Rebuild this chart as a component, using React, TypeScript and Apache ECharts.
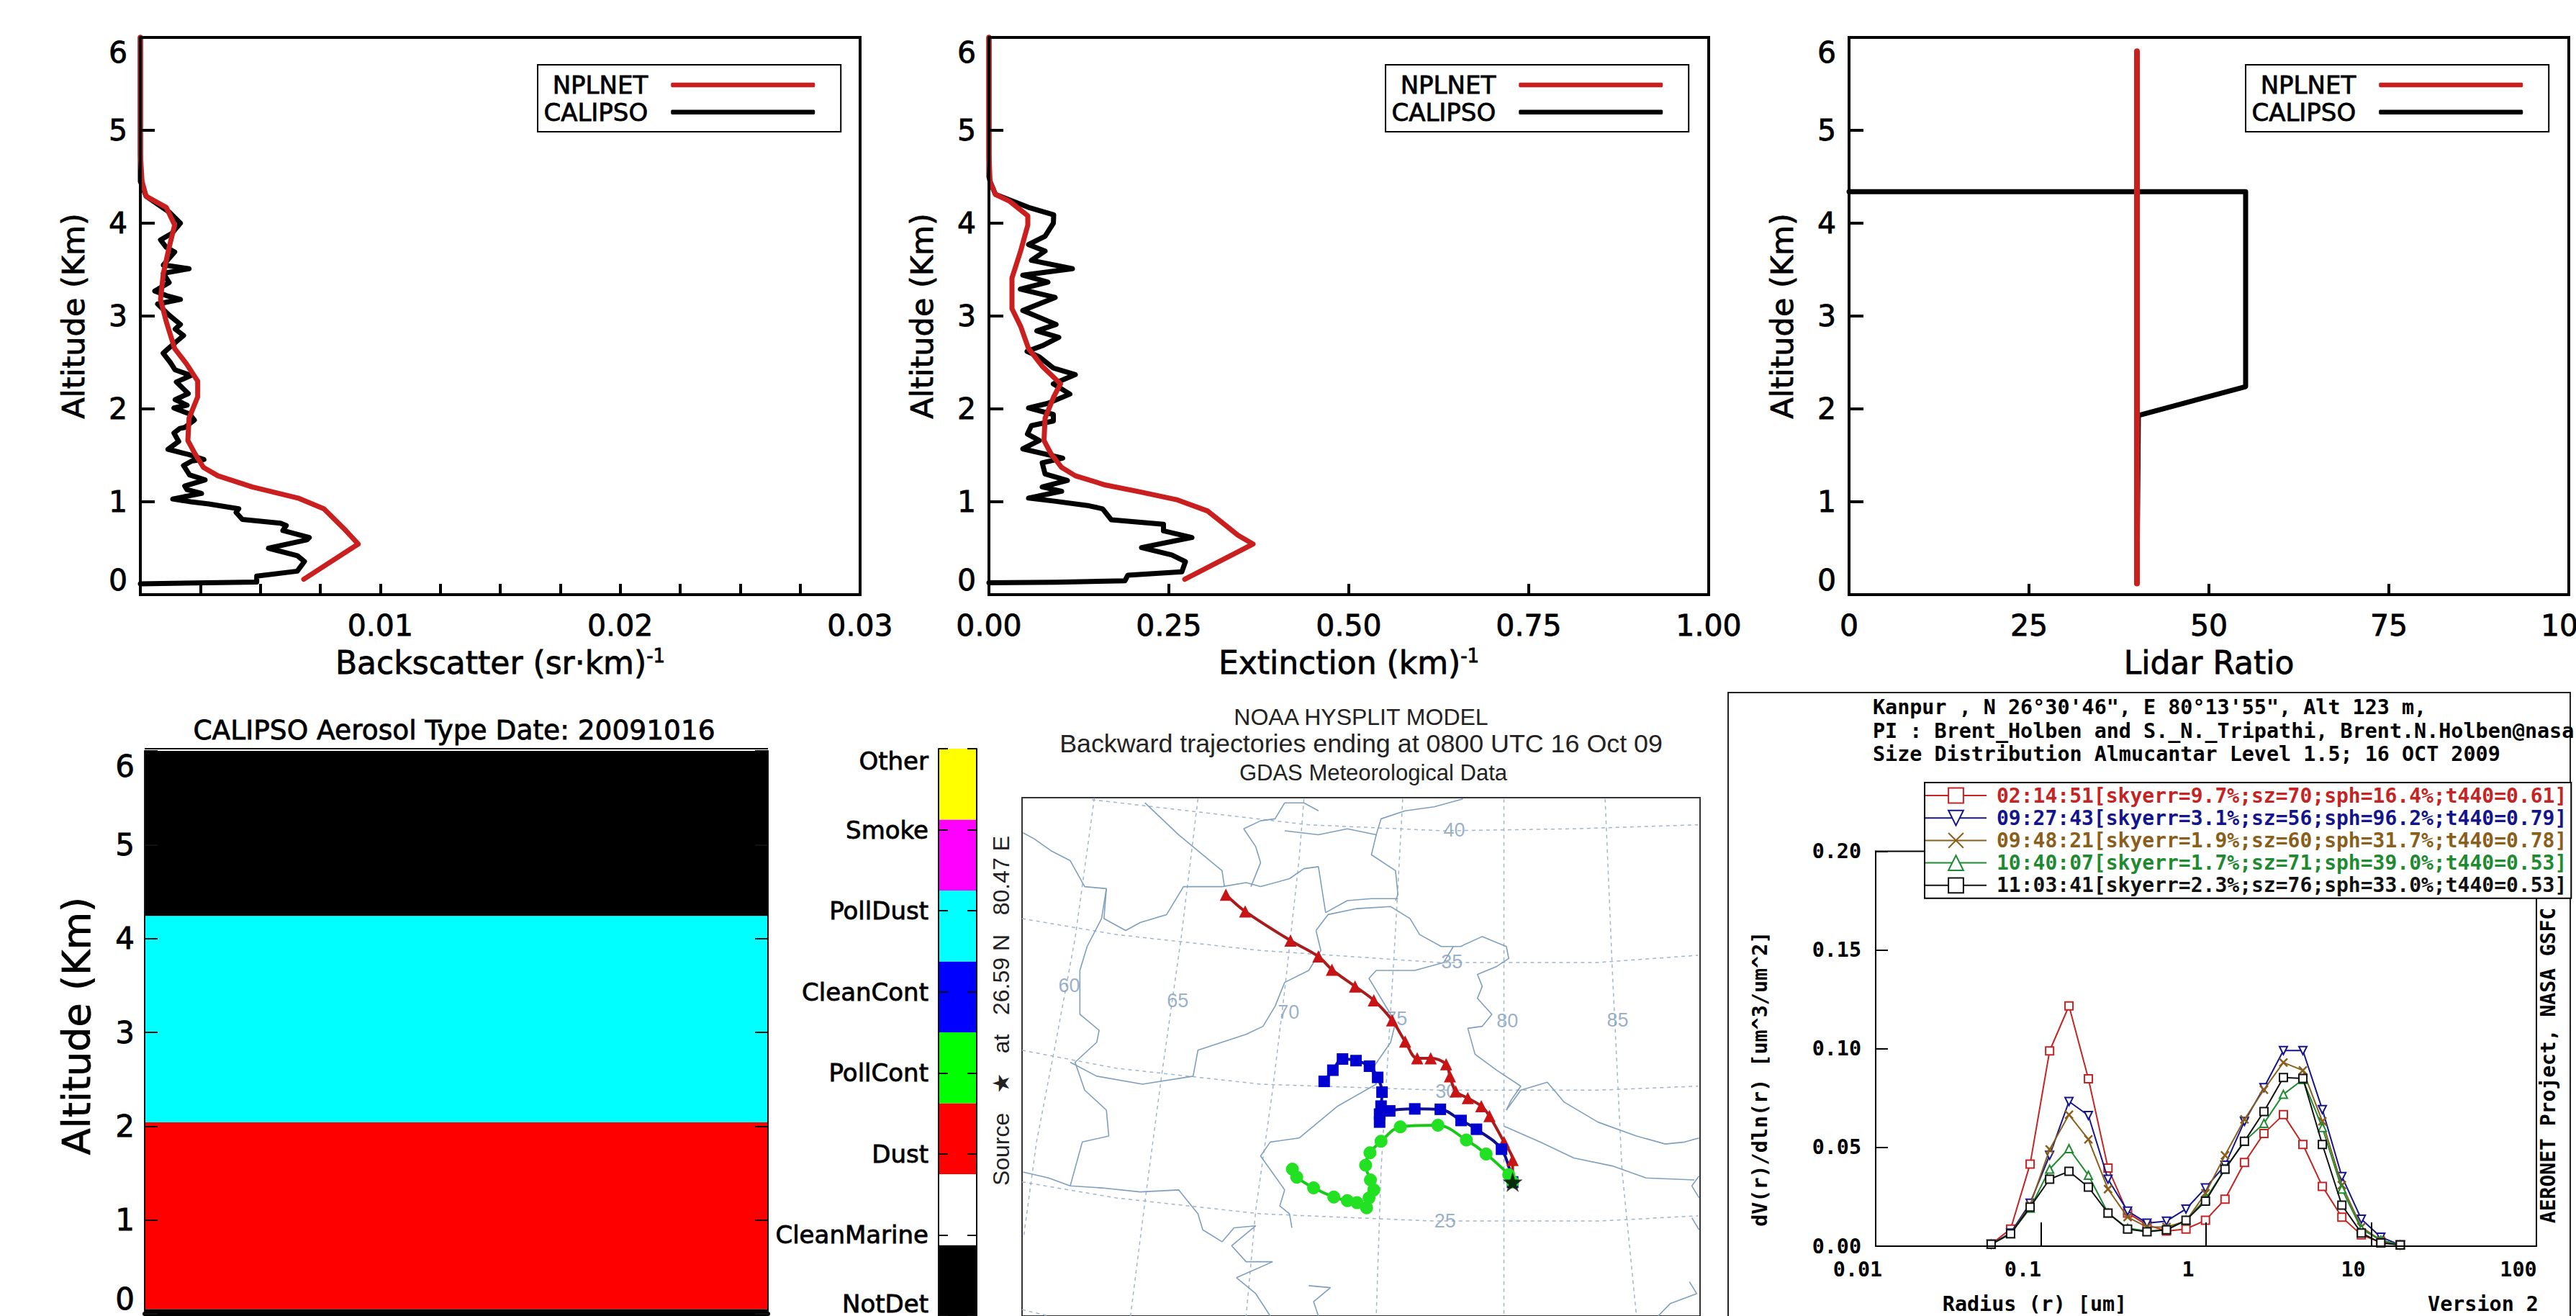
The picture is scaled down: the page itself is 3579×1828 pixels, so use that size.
import React, { useEffect, useRef } from "react";
import * as echarts from "echarts";

const SANS = "'DejaVu Sans', sans-serif";
const ARIAL = "'Liberation Sans', Arial, sans-serif";
const MONO = "'DejaVu Sans Mono', monospace";
const RED = "#c91f1f";
const HEAVY = { textBorderColor: "#000", textBorderWidth: 0.8 };

// ---- Profile panels ----
const bsRedAlt = [0.166, 0.545, 0.71, 0.924, 1.04, 1.16, 1.28, 1.37, 1.52, 1.66, 1.9, 2.13, 2.3, 2.49, 2.65, 2.94, 3.18, 3.46, 3.74, 3.98, 4.17, 4.29, 4.45, 4.74, 5.02, 6.0];
const bsRedVal = [0.00681, 0.00908, 0.00849, 0.00765, 0.00657, 0.00466, 0.00323, 0.00263, 0.00227, 0.00198, 0.00203, 0.00239, 0.00239, 0.00191, 0.00143, 0.00108, 0.00084, 0.00096, 0.0012, 0.00143, 0.00108, 0.00024, 0.00007, 0, 0, 0];
const bsBlackAlt = [0.116, 0.136, 0.2, 0.253, 0.357, 0.42, 0.5, 0.59, 0.615, 0.69, 0.744, 0.77, 0.81, 0.886, 0.925, 0.977, 1.0, 1.03, 1.09, 1.13, 1.17, 1.235, 1.29, 1.39, 1.44, 1.455, 1.506, 1.566, 1.65, 1.74, 1.79, 1.8, 1.88, 1.945, 2.01, 2.04, 2.1, 2.165, 2.29, 2.36, 2.42, 2.5, 2.6, 2.67, 2.79, 2.86, 2.91, 3.01, 3.13, 3.18, 3.22, 3.27, 3.36, 3.46, 3.51, 3.55, 3.69, 3.74, 3.82, 3.89, 4.0, 4.12, 4.29, 4.45, 6.0];
const bsBlackVal = [0, 0.00485, 0.00485, 0.00654, 0.00684, 0.00654, 0.00534, 0.00694, 0.00704, 0.00594, 0.00608, 0.00584, 0.00425, 0.00399, 0.0041, 0.00285, 0.0021, 0.00135, 0.00255, 0.00195, 0.00185, 0.0027, 0.00205, 0.0018, 0.00215, 0.00265, 0.00205, 0.00115, 0.0016, 0.0014, 0.00165, 0.00185, 0.00225, 0.00205, 0.0014, 0.00195, 0.00145, 0.002, 0.0015, 0.00211, 0.00145, 0.00125, 0.00095, 0.00125, 0.0018, 0.00145, 0.00167, 0.0012, 0.00072, 0.00167, 0.00108, 0.0006, 0.0012, 0.00096, 0.00203, 0.00096, 0.00143, 0.00108, 0.00084, 0.00131, 0.00167, 0.0012, 0.00024, 0, 0];

const exRedAlt = [0.166, 0.545, 0.64, 0.758, 0.9, 1.02, 1.11, 1.18, 1.28, 1.37, 1.52, 1.66, 1.9, 2.13, 2.27, 2.46, 2.65, 2.89, 3.08, 3.41, 3.7, 3.98, 4.08, 4.24, 4.31, 4.45, 4.74, 5.02, 6.0];
const exRedVal = [0.272, 0.367, 0.346, 0.327, 0.304, 0.262, 0.208, 0.162, 0.12, 0.101, 0.086, 0.0765, 0.078, 0.09, 0.0995, 0.074, 0.055, 0.044, 0.032, 0.032, 0.044, 0.054, 0.054, 0.028, 0.009, 0.0015, 0, 0, 0];
const exBlackAlt = [0.128, 0.133, 0.15, 0.21, 0.246, 0.355, 0.427, 0.507, 0.616, 0.687, 0.758, 0.806, 0.924, 0.957, 1.005, 1.04, 1.114, 1.16, 1.23, 1.3, 1.42, 1.47, 1.57, 1.66, 1.73, 1.82, 1.87, 1.94, 2.01, 2.06, 2.16, 2.27, 2.37, 2.44, 2.56, 2.62, 2.68, 2.77, 2.84, 2.91, 3.06, 3.2, 3.29, 3.365, 3.44, 3.51, 3.6, 3.7, 3.77, 3.86, 4.0, 4.09, 4.17, 4.31, 4.45, 4.5, 6.0];
const exBlackVal = [0, 0.093, 0.189, 0.193, 0.268, 0.273, 0.254, 0.212, 0.282, 0.2425, 0.2425, 0.17, 0.158, 0.139, 0.093, 0.055, 0.101, 0.074, 0.109, 0.078, 0.074, 0.1025, 0.047, 0.07, 0.0535, 0.059, 0.0895, 0.0895, 0.055, 0.082, 0.1125, 0.0895, 0.12, 0.0895, 0.07, 0.053, 0.074, 0.097, 0.0665, 0.0933, 0.047, 0.092, 0.0436, 0.082, 0.047, 0.116, 0.059, 0.078, 0.055, 0.078, 0.0895, 0.09, 0.055, 0.009, 0.0015, 0, 0];

const lrRedAlt = [0.12, 5.85];
const lrRedVal = [40, 40];
const lrBlackAlt = [4.34, 4.34, 2.24, 1.93, 0.12];
const lrBlackVal = [0, 55.1, 55.1, 40.2, 40];

// ---- Aerosol type panel ----
const typeLow = [4.24, 2.04, 0.05, 0];
const typeHigh = [6, 4.24, 2.04, 0.05];
const typeColor = ["#000000", "#00ffff", "#ff0000", "#000000"];
const colorNames = ["NotDet", "CleanMarine", "Dust", "PollCont", "CleanCont", "PollDust", "Smoke", "Other"];
const colorCells = ["#000000", "#ffffff", "#ff0000", "#00ff00", "#0000ff", "#00ffff", "#ff00ff", "#ffff00"];

// ---- HYSPLIT map (map-plane units) ----
type P = number[][];
const latLines: P[] = [
  [[250, 272], [450, 300], [700, 335], [980, 350], [1250, 345], [1508, 335]],
  [[105, 570], [300, 610], [600, 650], [970, 680], [1300, 680], [1508, 662]],
  [[105, 900], [300, 945], [600, 985], [970, 1000], [1300, 1000], [1508, 990]],
  [[105, 1230], [300, 1270], [600, 1310], [960, 1328], [1300, 1328], [1508, 1315]],
  [[105, 1550], [160, 1566]],
];
const lonLines: P[] = [
  [[255, 268], [215, 620], [175, 880], [135, 1130], [108, 1370]],
  [[470, 270], [435, 620], [395, 960], [360, 1280], [330, 1566]],
  [[690, 270], [680, 420], [650, 750], [625, 1000], [590, 1300], [570, 1566]],
  [[895, 270], [880, 600], [870, 800], [850, 1200], [840, 1566]],
  [[1105, 270], [1105, 1566]],
  [[1315, 270], [1330, 700], [1350, 1200], [1380, 1566]],
];
const borderLines: P[] = [
  [[107, 355], [130, 370], [165, 400], [205, 425], [235, 490], [280, 495], [275, 570], [320, 600], [350, 580], [405, 560], [440, 490], [520, 490], [570, 480], [600, 490], [660, 470], [690, 445], [720, 440], [735, 555], [780, 525], [830, 520], [885, 520]],
  [[360, 280], [430, 360], [500, 430], [520, 450], [525, 490]],
  [[650, 280], [630, 320], [600, 325], [565, 345], [590, 390], [600, 430], [580, 490]],
  [[650, 280], [690, 280], [720, 300]],
  [[650, 350], [720, 360], [780, 345], [840, 360], [850, 320], [900, 300], [960, 290], [1020, 270]],
  [[840, 360], [830, 410], [880, 450], [885, 510], [880, 525]],
  [[715, 600], [740, 560], [800, 545], [870, 540], [910, 570], [930, 610], [975, 640], [1015, 640], [1060, 615], [1110, 640], [1115, 670], [1090, 690], [1050, 710], [1060, 740], [1050, 770], [1080, 810], [1060, 840], [1030, 845], [1045, 910], [1090, 950], [1140, 990], [1120, 1025], [1110, 1050]],
  [[1110, 1050], [1140, 1000], [1195, 980], [1230, 1030], [1300, 1080], [1380, 1115], [1440, 1135], [1480, 1130], [1510, 1120]],
  [[1105, 1090], [1180, 1130], [1250, 1170], [1330, 1190], [1400, 1220], [1500, 1225]],
  [[205, 930], [260, 965], [355, 985], [460, 965], [470, 900], [520, 880], [570, 860], [605, 840], [630, 790], [650, 730], [700, 700], [725, 650], [715, 600]],
  [[280, 495], [270, 570], [240, 640], [225, 700], [225, 810], [265, 850], [260, 880], [215, 930], [235, 1000], [280, 1050], [285, 1115], [230, 1130], [205, 1240]],
  [[107, 1205], [160, 1220], [205, 1240], [270, 1245], [350, 1255], [430, 1250], [450, 1280], [470, 1310], [480, 1350], [520, 1380], [545, 1345], [590, 1340], [540, 1390], [570, 1430], [625, 1430], [550, 1470], [590, 1510], [620, 1566]],
  [[680, 1120], [620, 1130], [600, 1165], [650, 1250], [640, 1290], [660, 1310], [665, 1345]],
  [[680, 1120], [760, 1040], [840, 985], [830, 950], [870, 880], [880, 830], [840, 750], [825, 720], [840, 700], [920, 700], [980, 680], [1000, 640]],
  [[1510, 1215], [1495, 1240], [1510, 1270]],
  [[1495, 1320], [1510, 1350]],
  [[1490, 1480], [1505, 1510], [1450, 1535], [1425, 1566]],
  [[700, 1490], [745, 1495], [710, 1530], [720, 1566]],
];
const gridLabels: (number | string)[][] = [
  [1002, 348, "40"], [997, 678, "35"], [985, 1003, "30"], [983, 1327, "25"],
  [203, 738, "60"], [428, 775, "65"], [658, 805, "70"], [882, 820, "75"], [1112, 826, "80"], [1341, 824, "85"],
];
const trajRed: P = [[528, 510], [568, 552], [662, 625], [720, 665], [748, 698], [796, 740], [835, 775], [873, 825], [900, 878], [925, 920], [953, 920], [985, 935], [993, 965], [1005, 1003], [1030, 1020], [1058, 1040], [1075, 1065], [1105, 1130], [1123, 1175], [1123, 1230]];
const trajBlue: P = [[732, 978], [750, 950], [770, 922], [798, 926], [826, 940], [843, 968], [852, 1005], [850, 1040], [847, 1060], [847, 1080], [868, 1052], [920, 1047], [973, 1048], [1016, 1076], [1048, 1098], [1100, 1148], [1123, 1230]];
const trajGreen: P = [[666, 1198], [675, 1218], [710, 1245], [752, 1268], [780, 1277], [800, 1282], [820, 1295], [825, 1270], [835, 1250], [828, 1225], [818, 1188], [827, 1157], [850, 1128], [890, 1092], [968, 1088], [1027, 1125], [1068, 1160], [1115, 1212], [1123, 1230]];
const sourcePoint: P = [[1123, 1230]];

// ---- AERONET size distribution ----
const radius = [0.05, 0.0656, 0.0861, 0.113, 0.148, 0.194, 0.255, 0.335, 0.439, 0.576, 0.756, 0.992, 1.302, 1.708, 2.241, 2.94, 3.857, 5.06, 6.641, 8.713, 11.43, 15.0];
const dv0214 = [0.001, 0.0087, 0.0416, 0.0989, 0.1217, 0.0848, 0.0396, 0.0168, 0.0107, 0.0077, 0.0087, 0.0131, 0.0238, 0.0424, 0.0571, 0.0666, 0.0515, 0.0303, 0.0147, 0.0057, 0.002, 0.0006];
const dv0927 = [0.001, 0.0067, 0.0218, 0.046, 0.0733, 0.0662, 0.0339, 0.0178, 0.0117, 0.0127, 0.0188, 0.0295, 0.041, 0.0632, 0.0803, 0.0991, 0.0991, 0.0692, 0.0353, 0.0137, 0.0046, 0.0006];
const dv0948 = [0.001, 0.0063, 0.0208, 0.049, 0.0666, 0.0541, 0.0289, 0.0147, 0.0097, 0.0097, 0.0127, 0.0268, 0.046, 0.0642, 0.0793, 0.093, 0.089, 0.0632, 0.0309, 0.0097, 0.003, 0.0006];
const dv1040 = [0.001, 0.0063, 0.0192, 0.039, 0.0494, 0.0359, 0.0168, 0.0091, 0.0077, 0.0083, 0.0131, 0.0238, 0.039, 0.0531, 0.0622, 0.0769, 0.0844, 0.0601, 0.0289, 0.0087, 0.003, 0.0006];
const dv1103 = [0.001, 0.0063, 0.0198, 0.0339, 0.0379, 0.0299, 0.0168, 0.0087, 0.0073, 0.0083, 0.0131, 0.0228, 0.039, 0.0531, 0.0682, 0.0854, 0.085, 0.0515, 0.0208, 0.0067, 0.0016, 0.0006];
const runNames = [
  "02:14:51[skyerr=9.7%;sz=70;sph=16.4%;t440=0.61]",
  "09:27:43[skyerr=3.1%;sz=56;sph=96.2%;t440=0.79]",
  "09:48:21[skyerr=1.9%;sz=60;sph=31.7%;t440=0.78]",
  "10:40:07[skyerr=1.7%;sz=71;sph=39.0%;t440=0.53]",
  "11:03:41[skyerr=2.3%;sz=76;sph=33.0%;t440=0.53]",
];
const runColors = ["#c42424", "#14148c", "#8a5f1c", "#1f8a32", "#111111"];
const runValues = [dv0214, dv0927, dv0948, dv1040, dv1103];
const runSymbols = ["emptyRect", "emptyTriangle", "path://M0,0L10,10M10,0L0,10", "emptyTriangle", "emptyRect"];
const runRotate = [0, 180, 0, 0, 0];

const zip = (xs: number[], ys: number[]) => xs.map((x, i) => [x, ys[i]]);

function profileGrid(left: number) {
  return { left, top: 52, width: 1000, height: 774, show: true, borderColor: "#000", borderWidth: 4, backgroundColor: "#fff", outerBoundsMode: "none" };
}
function altAxis(i: number) {
  return {
    type: "value", gridIndex: i, min: 0, max: 6, interval: 1, z: 5,
    name: "Altitude (Km)", nameLocation: "middle", nameGap: 72, nameRotate: 90,
    nameTextStyle: { fontFamily: SANS, fontSize: 43, color: "#000", ...HEAVY },
    axisLine: { show: true, onZero: false, lineStyle: { color: "#000", width: 4 } },
    axisTick: { show: true, inside: true, length: 20, lineStyle: { color: "#000", width: 4 } },
    axisLabel: { show: true, fontFamily: SANS, fontSize: 41, color: "#000", margin: 18, verticalAlignMinLabel: "bottom", verticalAlignMaxLabel: "top", ...HEAVY },
    splitLine: { show: false },
  };
}
function valAxis(i: number, max: number, interval: number, fmt: (v: number) => string, name: string, rich?: any) {
  return {
    type: "value", gridIndex: i, min: 0, max, interval, z: 5,
    name, nameLocation: "middle", nameGap: 72,
    nameTextStyle: { fontFamily: SANS, fontSize: 44, color: "#000", rich, ...HEAVY },
    axisLine: { show: true, onZero: false, lineStyle: { color: "#000", width: 4 } },
    axisTick: { show: true, inside: true, length: 15, lineStyle: { color: "#000", width: 4 } },
    axisLabel: { show: true, fontFamily: SANS, fontSize: 41, color: "#000", margin: 22, formatter: fmt, ...HEAVY },
    splitLine: { show: false },
  };
}
function profLine(name: string, i: number, vals: number[], alts: number[], color: string, width: number) {
  return {
    type: "line", name, xAxisIndex: i, yAxisIndex: i, data: zip(vals, alts), showSymbol: false, symbol: "none",
    clip: false, silent: true, z: name === "NPLNET" ? 4 : 3,
    lineStyle: { color, width, cap: "round", join: "round" }, itemStyle: { color },
  };
}
function profLegend(left: number) {
  return {
    show: true, orient: "vertical", align: "right", left, top: 90, selectedMode: false,
    data: ["NPLNET", "CALIPSO"], icon: "roundRect", itemWidth: 200, itemHeight: 6.5, itemGap: 3,
    padding: [10.5, 36, 10, 8], borderColor: "#000", borderWidth: 2, backgroundColor: "#fff",
    textStyle: { fontFamily: SANS, fontSize: 34, color: "#000", padding: [0, 27, 0, 0], ...HEAVY },
    z: 6,
  };
}
function bandSeries(x: number, lows: number[], highs: number[], colors: string[]) {
  return {
    type: "custom", xAxisIndex: x, yAxisIndex: x, silent: true, z: 1,
    data: lows.map((l, i) => [l, highs[i]]),
    renderItem: (params: any, api: any) => {
      const a = api.coord([0, api.value(0)]);
      const b = api.coord([1, api.value(1)]);
      return { type: "rect", shape: { x: a[0], y: b[1], width: b[0] - a[0], height: a[1] - b[1] }, style: { fill: colors[params.dataIndex] } };
    },
  };
}
function hiddenX(i: number) {
  return { type: "value", gridIndex: i, min: 0, max: 1, show: false, splitLine: { show: false } };
}
function sideTicks(i: number, position: string, max: number, interval: number, len: number) {
  return {
    type: "value", gridIndex: i, position, min: 0, max, interval, z: 5,
    axisLine: { show: true, onZero: false, lineStyle: { color: "#111", width: 2 } },
    axisTick: { show: true, inside: true, length: len, lineStyle: { color: "#111", width: 2 } },
    axisLabel: { show: false }, splitLine: { show: false },
  };
}
function mapLine(points: P, color: string, width: number, dashed: boolean) {
  return {
    type: "line", xAxisIndex: 5, yAxisIndex: 5, data: points, symbol: "none", silent: true, z: 2,
    lineStyle: { color, width, type: dashed ? [5, 5] : "solid" },
  };
}
function traj(points: P, lineColor: string, fill: string, symbol: string, size: number) {
  return {
    type: "line", xAxisIndex: 5, yAxisIndex: 5, data: points, smooth: 0.35, symbol, symbolSize: size, showAllSymbol: true, silent: true, z: 3,
    lineStyle: { color: lineColor, width: 4 }, itemStyle: { color: fill },
  };
}

const labelText = (text: string, x: number, y: number, font: string, extra: any = {}) => ({
  type: "text", x, y, z: 20, silent: true, rotation: extra.rotation ?? 0,
  style: { text, font, fill: extra.fill ?? "#000", align: extra.align ?? "center", verticalAlign: "middle", ...(extra.heavy ? { stroke: "#000", lineWidth: 0.8 } : {}) },
});

export default function App() {
  const ref = useRef<HTMLDivElement>(null);
  useEffect(() => {
    document.body.style.margin = "0";
    const chart = echarts.init(ref.current!, null, { renderer: "svg" });
    const monoB = `bold 28.4px ${MONO}`;
    const richAxis = { a: { fontFamily: SANS, fontSize: 44, color: "#000", ...HEAVY }, b: { fontFamily: SANS, fontSize: 26, color: "#000", padding: [0, 0, 18, 0], ...HEAVY } };
    const nice = (v: number) => String(parseFloat(v.toPrecision(3)));
    chart.setOption({
      animation: false,
      backgroundColor: "#fff",
      grid: [
        profileGrid(195), profileGrid(1374), profileGrid(2569),
        { left: 201, top: 1043, width: 866, height: 782, outerBoundsMode: "none" },
        { left: 1304, top: 1040, width: 53, height: 788, outerBoundsMode: "none" },
        { left: 1420, top: 1108, width: 942, height: 720, show: true, borderColor: "#333", borderWidth: 2, outerBoundsMode: "none" },
        { left: 2606, top: 1182.5, width: 918, height: 548.5, show: true, borderColor: "#000", borderWidth: 2, outerBoundsMode: "none" },
      ],
      xAxis: [
        valAxis(0, 0.03, 0.0025, (v) => (Math.abs(v / 0.01 - Math.round(v / 0.01)) < 1e-6 && v > 0 ? v.toFixed(2) : ""), "{a|Backscatter (sr·km)}{b|-1}", richAxis),
        valAxis(1, 1, 0.25, (v) => v.toFixed(2), "{a|Extinction (km)}{b|-1}", richAxis),
        valAxis(2, 100, 25, (v) => String(v), "Lidar Ratio"),
        {
          type: "value", gridIndex: 3, min: 0, max: 1, z: 5, show: true,
          axisLine: { show: true, onZero: false, lineStyle: { color: "#000", width: 6 } },
          axisTick: { show: false }, axisLabel: { show: false }, splitLine: { show: false },
        },
        hiddenX(4),
        { type: "value", gridIndex: 5, min: 105, max: 1512, show: false, splitLine: { show: false } },
        {
          type: "log", logBase: 10, gridIndex: 6, min: 0.01, max: 100, z: 5,
          axisLine: { show: true, onZero: false, lineStyle: { color: "#000", width: 2 } },
          axisTick: { show: true, inside: true, length: 33, lineStyle: { color: "#000", width: 2 } },
          minorTick: { show: false },
          axisLabel: { show: true, fontFamily: MONO, fontWeight: "bold", fontSize: 28.4, color: "#000", margin: 18, padding: [0, 50, 0, 0], formatter: nice },
          splitLine: { show: false },
        },
      ],
      yAxis: [
        altAxis(0), altAxis(1), altAxis(2),
        {
          ...sideTicks(3, "left", 6, 1, 18),
          name: "Altitude (Km)", nameLocation: "middle", nameGap: 68, nameRotate: 90,
          nameTextStyle: { fontFamily: SANS, fontSize: 54, color: "#000", padding: [0, 0, 0, 18], ...HEAVY },
          axisLabel: { show: true, fontFamily: SANS, fontSize: 42, color: "#000", margin: 14, verticalAlignMinLabel: "bottom", verticalAlignMaxLabel: "top", ...HEAVY },
        },
        {
          ...sideTicks(4, "left", 7, 1, 13),
          axisLabel: {
            show: true, fontFamily: SANS, fontSize: 34, color: "#000", margin: 14,
            verticalAlignMinLabel: "bottom", verticalAlignMaxLabel: "top",
            formatter: (v: number) => colorNames[v] ?? "", ...HEAVY,
          },
        },
        { type: "value", gridIndex: 5, min: 267, max: 1566, inverse: true, show: false, splitLine: { show: false } },
        {
          type: "value", gridIndex: 6, min: 0, max: 0.2, interval: 0.05, z: 5,
          name: "dV(r)/dln(r) [um^3/um^2]", nameLocation: "middle", nameGap: 147, nameRotate: 90,
          nameTextStyle: { fontFamily: MONO, fontWeight: "bold", fontSize: 28.4, color: "#000", padding: [0, 84, 0, 0] },
          axisLine: { show: true, onZero: false, lineStyle: { color: "#000", width: 2 } },
          axisTick: { show: true, inside: true, length: 17, lineStyle: { color: "#000", width: 2 } },
          axisLabel: { show: true, fontFamily: MONO, fontWeight: "bold", fontSize: 28.4, color: "#000", margin: 20, formatter: (v: number) => v.toFixed(2) },
          splitLine: { show: false },
        },
        sideTicks(3, "right", 6, 1, 18),
        sideTicks(4, "right", 7, 1, 13),
      ],
      legend: [
        profLegend(747), profLegend(1925), profLegend(3120),
        {
          show: true, orient: "vertical", left: 2674, top: 1087, selectedMode: false,
          data: runNames.map((name, i) => ({ name, textStyle: { color: runColors[i] } })),
          itemWidth: 85, itemHeight: 26, itemGap: 3.2,
          padding: [4, 6, 4, 0], borderColor: "#000", borderWidth: 2, backgroundColor: "#fff",
          textStyle: { fontFamily: MONO, fontWeight: "bold", fontSize: 28, padding: [0, 0, 0, 9] },
          z: 6,
        },
      ],
      series: [
        profLine("CALIPSO", 0, bsBlackVal, bsBlackAlt, "#000", 7),
        profLine("NPLNET", 0, bsRedVal, bsRedAlt, RED, 7),
        profLine("CALIPSO", 1, exBlackVal, exBlackAlt, "#000", 7),
        profLine("NPLNET", 1, exRedVal, exRedAlt, RED, 7),
        profLine("CALIPSO", 2, lrBlackVal, lrBlackAlt, "#000", 7),
        profLine("NPLNET", 2, lrRedVal, lrRedAlt, RED, 8),
        bandSeries(3, typeLow, typeHigh, typeColor),
        bandSeries(4, colorCells.map((_, i) => (i * 7) / 8), colorCells.map((_, i) => ((i + 1) * 7) / 8), colorCells),
        ...latLines.map((l) => mapLine(l, "#9fb6cc", 1.5, true)),
        ...lonLines.map((l) => mapLine(l, "#9fb6cc", 1.5, true)),
        ...borderLines.map((l) => mapLine(l, "#7f9fbe", 1.6, false)),
        {
          type: "scatter", xAxisIndex: 5, yAxisIndex: 5, data: gridLabels, symbolSize: 0, silent: true, z: 2,
          label: { show: true, position: "inside", formatter: (p: any) => p.value[2], fontFamily: ARIAL, fontSize: 27, color: "#7f9cbb" },
        },
        traj(trajRed, "#a81c1c", "#c81414", "triangle", 17),
        traj(trajBlue, "#10108c", "#0000d0", "rect", 16),
        traj(trajGreen, "#19c819", "#22e022", "circle", 18),
        {
          type: "scatter", xAxisIndex: 5, yAxisIndex: 5, data: sourcePoint, silent: true, z: 4, symbolSize: 28,
          symbol: "path://M50,0 L61,35 L98,35 L68,57 L79,91 L50,70 L21,91 L32,57 L2,35 L39,35 Z", itemStyle: { color: "#000" },
        },
        ...runNames.map((name, i) => ({
          type: "line", name, xAxisIndex: 6, yAxisIndex: 6, data: zip(radius, runValues[i]), silent: true, z: 3 + i * 0.01,
          symbol: runSymbols[i], symbolSize: 11, symbolRotate: runRotate[i], showAllSymbol: true,
          lineStyle: { color: runColors[i], width: 2 },
          itemStyle: { color: runColors[i], borderColor: runColors[i], borderWidth: 2.5 },
        })),
      ],
      graphic: [
        { type: "line", z: 20, silent: true, shape: { x1: 201, y1: 1040, x2: 1067, y2: 1040 }, style: { stroke: "#111", lineWidth: 2 } },
        { type: "rect", z: 0, silent: true, shape: { x: 2401, y: 962, width: 1170, height: 880 }, style: { fill: "none", stroke: "#222", lineWidth: 2 } },
        labelText("CALIPSO Aerosol Type Date: 20091016", 631, 1014, `37.5px ${SANS}`, { heavy: true }),
        labelText("NOAA HYSPLIT MODEL", 1891, 996, `32px ${ARIAL}`, { fill: "#222" }),
        labelText("Backward trajectories ending at 0800 UTC 16 Oct 09", 1891, 1033, `35.8px ${ARIAL}`, { fill: "#222" }),
        labelText("GDAS Meteorological Data", 1908, 1073, `31px ${ARIAL}`, { fill: "#222" }),
        labelText("Source   ★   at   26.59 N   80.47 E", 1391, 1404, `32px ${ARIAL}`, { rotation: Math.PI / 2, fill: "#222" }),
        labelText('Kanpur , N 26°30\'46", E 80°13\'55", Alt 123 m,', 2602, 982, monoB, { align: "left" }),
        labelText("PI : Brent_Holben and S._N._Tripathi, Brent.N.Holben@nasa", 2602, 1015, monoB, { align: "left" }),
        labelText("Size Distribution Almucantar Level 1.5; 16 OCT 2009", 2602, 1047, monoB, { align: "left" }),
        labelText("Radius (r) [um]", 2827, 1811, monoB),
        labelText("Version 2", 3450, 1811, monoB),
        labelText("AERONET Project, NASA GSFC", 3540, 1480, `bold 28px ${MONO}`, { rotation: Math.PI / 2 }),
      ],
    });
    return () => chart.dispose();
  }, []);
  return <div ref={ref} style={{ position: "absolute", left: 0, top: 0, width: 3579, height: 1828, overflow: "hidden" }} />;
}
